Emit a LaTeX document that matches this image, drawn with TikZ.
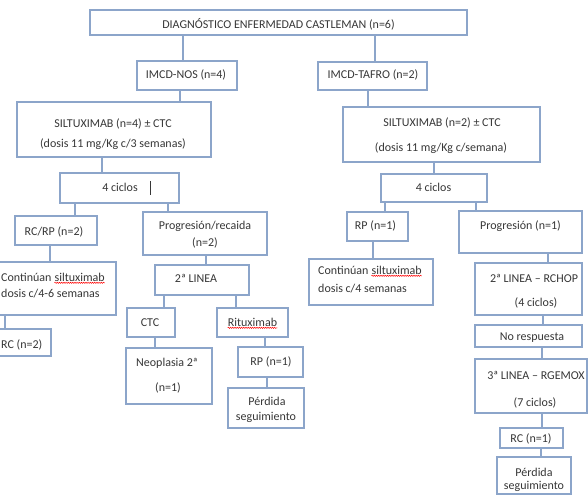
\documentclass[tikz,border=0pt]{standalone}
\usepackage{fontspec}
\setmainfont{Carlito}
\usetikzlibrary{decorations.pathmorphing}
\definecolor{bord}{RGB}{140,165,202}
\definecolor{txtc}{RGB}{55,55,55}
\tikzset{
  box/.style={draw=bord, line width=1.1pt, fill=white, inner sep=0pt},
  conn/.style={draw=bord, line width=1.1pt},
  txt/.style={text=txtc, font=\fontsize{12}{14}\selectfont, inner sep=0pt, anchor=base},
  txtl/.style={txt, anchor=base west},
  wave/.style={draw=red, line width=0.5pt, decorate, decoration={snake, amplitude=0.6pt, segment length=2.2pt}},
}
\newcommand\wavy[1]{\tikz[baseline=(w.base)]{\node[inner sep=0pt,anchor=base](w){#1};\draw[wave]([yshift=-1.8pt]w.base west)--([yshift=-1.8pt]w.base east);}}
\newcommand\bx[5]{\node[box, minimum width={(#4-#2)*1pt}, minimum height={(#5-#3)*1pt}] (#1) at ({(#2+#4)/2},{(#3+#5)/2}) {};}
\newcommand\cn[3]{\draw[conn] (#1.south -| #3,0) -- (#2.north -| #3,0);}
\begin{document}
\begin{tikzpicture}[x=1pt,y=-1pt]
\useasboundingbox (0,0) rectangle (588,495);
\clip (0,0) rectangle (588,495);
% boxes
\bx{diag}{90}{10}{467}{35}
\bx{nos}{137}{61}{237}{90}
\bx{tafro}{318}{62}{427}{90}
\bx{silA}{17}{102}{211}{157}
\bx{silB}{343}{107}{540}{162}
\bx{cicA}{60}{173}{179}{203}
\bx{rcrp}{15}{216}{97}{245}
\bx{prog}{143}{212}{267}{255}
\bx{contA}{-20}{262}{116}{315}
\bx{linA}{155}{265}{249}{295}
\bx{ctc}{127}{308}{175}{337}
\bx{ritux}{217}{308}{288}{337}
\bx{rcA}{-20}{329}{51}{356}
\bx{neo}{126}{348}{212}{404}
\bx{rpA}{238}{347}{303}{377}
\bx{perdA}{228}{388}{304}{428}
\bx{cicB}{381}{174}{487}{202}
\bx{rpB}{347}{212}{408}{241}
\bx{progB}{459}{211}{582}{253}
\bx{contB}{309}{259}{433}{305}
\bx{rchop}{475}{263}{582}{315}
\bx{nores}{475}{325}{582}{347}
\bx{rgemox}{475}{359}{587}{413}
\bx{rcB}{500}{428}{563}{448}
\bx{perdB}{497}{457}{571}{494}
% connectors
\cn{diag}{nos}{183}
\cn{diag}{tafro}{375}
\cn{nos}{silA}{180}
\cn{tafro}{silB}{368}
\cn{silA}{cicA}{102}
\cn{silB}{cicB}{434}
\cn{cicA}{rcrp}{75}
\cn{cicA}{prog}{168}
\cn{rcrp}{contA}{50}
\cn{prog}{linA}{206}
\cn{contA}{rcA}{5}
\cn{linA}{ctc}{164}
\cn{linA}{ritux}{236}
\cn{ctc}{neo}{155}
\cn{ritux}{rpA}{265}
\cn{rpA}{perdA}{267}
\cn{cicB}{rpB}{385}
\cn{cicB}{progB}{476}
\cn{rpB}{contB}{373}
\cn{progB}{rchop}{548}
\cn{rchop}{nores}{543}
\cn{nores}{rgemox}{542}
\cn{rgemox}{rcB}{542}
\cn{rcB}{perdB}{541}
% texts
\node[txt] (t-diag) at (278.5,28.5) {DIAGNÓSTICO ENFERMEDAD CASTLEMAN (n=6)};
\node[txt] (t-nos) at (186,78.5) {IMCD-NOS (n=4)};
\node[txt] (t-tafro) at (373,78) {IMCD-TAFRO (n=2)};
\node[txt] (t-silA1) at (113,127) {SILTUXIMAB (n=4) ± CTC};
\node[txt] (t-silA2) at (113,147) {(dosis 11 mg/Kg c/3 semanas)};
\node[txt] (t-silB1) at (442,126) {SILTUXIMAB (n=2) ± CTC};
\node[txt] (t-silB2) at (441,151) {(dosis 11 mg/Kg c/semana)};
\node[txt] (t-cicA) at (120,191) {4 ciclos};
\draw[txtc, line width=0.8pt] (150,181) -- (150,195);
\node[txt] (t-rcrp) at (54,235) {RC/RP (n=2)};
\node[txt] (t-prog1) at (205,229) {Progresión/recaida};
\node[txt] (t-prog2) at (205,246) {(n=2)};
\node[txtl] (t-contA1) at (1,281) {Continúan \wavy{siltuximab}};
\node[txtl] (t-contA2) at (1,297) {dosis c/4-6 semanas};
\node[txt] (t-linA) at (196,282) {2ª LINEA};
\node[txt] (t-ctc) at (150,326) {CTC};
\node[txt] (t-ritux) at (252.5,326) {\wavy{Rituximab}};
\node[txtl] (t-rcA) at (1,348) {RC (n=2)};
\node[txt] (t-neo1) at (167,366) {Neoplasia 2ª};
\node[txt] (t-neo2) at (168,391) {(n=1)};
\node[txt] (t-rpA) at (271,365) {RP (n=1)};
\node[txt] (t-perdA1) at (267,405) {Pérdida};
\node[txt] (t-perdA2) at (266,420) {seguimiento};
\node[txt] (t-cicB) at (433.5,191) {4 ciclos};
\node[txt] (t-rpB) at (375.5,229) {RP (n=1)};
\node[txt] (t-progB) at (520.5,229) {Progresión (n=1)};
\node[txtl] (t-contB1) at (318,274) {Continúan \wavy{siltuximab}};
\node[txtl] (t-contB2) at (318,292) {dosis c/4 semanas};
\node[txt] (t-rchop1) at (534,282) {2ª LINEA – RCHOP};
\node[txt] (t-rchop2) at (536,306) {(4 ciclos)};
\node[txt] (t-nores) at (532,340) {No respuesta};
\node[txt] (t-rgemox1) at (536,379) {3ª LINEA – RGEMOX};
\node[txt] (t-rgemox2) at (535,406) {(7 ciclos)};
\node[txt] (t-rcB) at (531,442) {RC (n=1)};
\node[txt] (t-perdB1) at (534,476) {Pérdida};
\node[txt] (t-perdB2) at (534,489) {seguimiento};
\end{tikzpicture}
\end{document}
